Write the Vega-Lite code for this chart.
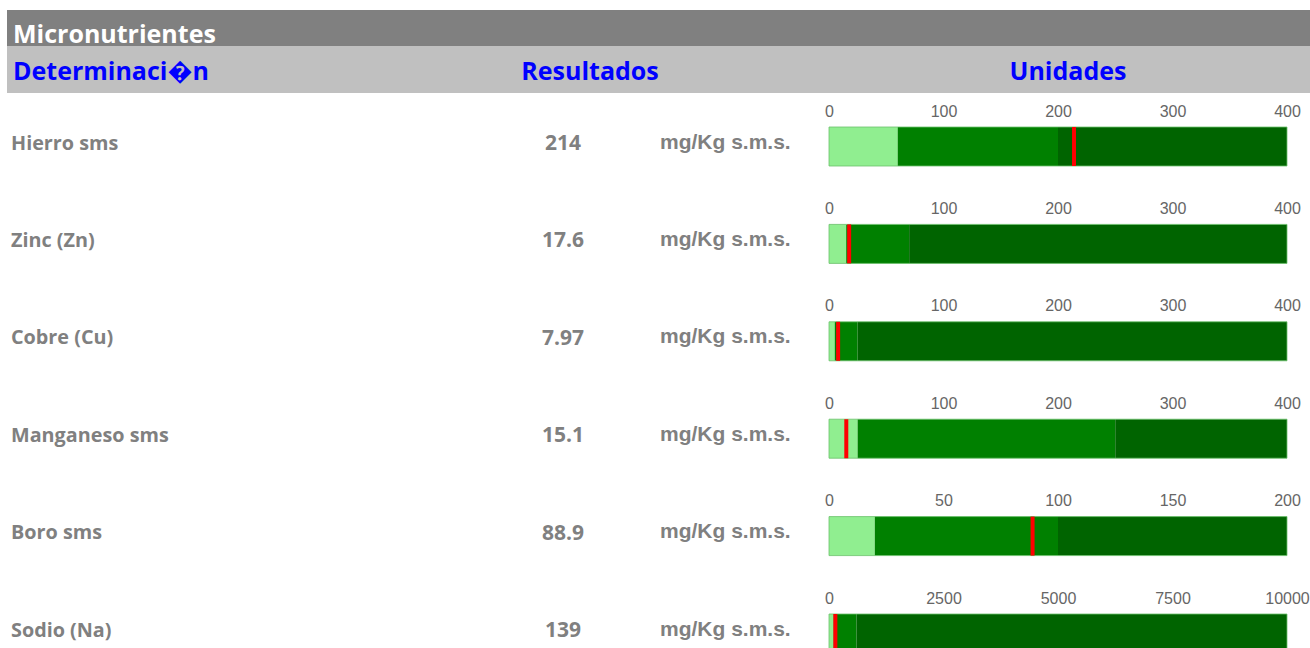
{
  "$schema": "https://vega.github.io/schema/vega-lite/v6.json",
  "padding": {"left": 7, "top": 10, "right": 0, "bottom": 0},
  "background": "white",
  "config": {
    "view": {"stroke": null},
    "axis": {"domain": false, "ticks": false, "grid": false, "labelFont": "Liberation Sans", "labelFontSize": 16, "labelColor": "#666666", "labelPadding": 8, "labelFlush": false},
    "style": {
      "titleText": {"align": "left", "baseline": "alphabetic", "dx": 6, "dy": 15, "font": "Open Sans", "fontSize": 25, "fontWeight": "bold"},
      "headLeft": {"align": "left", "baseline": "alphabetic", "dx": 6, "dy": 10, "font": "Open Sans", "fontSize": 25, "fontWeight": "bold"},
      "headCenter": {"align": "center", "baseline": "alphabetic", "dy": 10, "font": "Open Sans", "fontSize": 25, "fontWeight": "bold"},
      "nameText": {"align": "left", "baseline": "alphabetic", "dx": 4, "dy": 3, "font": "Open Sans", "fontSize": 19.8, "fontWeight": "bold"},
      "valueText": {"align": "center", "baseline": "alphabetic", "dy": 3.5, "font": "Open Sans", "fontSize": 21, "fontWeight": "bold"},
      "unitText": {"align": "left", "baseline": "alphabetic", "dx": 4, "dy": 2, "font": "Liberation Sans", "fontSize": 21, "fontWeight": "bold"}
    }
  },
  "datasets": {
    "headers": [
      {"col": "Micronutrientes", "label": "Micronutrientes"},
      {"col": "Determinación", "label": "Determinaci\uFFFDn"},
      {"col": "Resultados", "label": "Resultados"},
      {"col": "Blank", "label": ""},
      {"col": "Unidades", "label": "Unidades"}
    ],
    "items": [
      {"name": "Hierro sms", "value": 214, "result": "214", "unit": "mg/Kg s.m.s."},
      {"name": "Zinc (Zn)", "value": 17.6, "result": "17.6", "unit": "mg/Kg s.m.s."},
      {"name": "Cobre (Cu)", "value": 7.97, "result": "7.97", "unit": "mg/Kg s.m.s."},
      {"name": "Manganeso sms", "value": 15.1, "result": "15.1", "unit": "mg/Kg s.m.s."},
      {"name": "Boro sms", "value": 88.9, "result": "88.9", "unit": "mg/Kg s.m.s."},
      {"name": "Sodio (Na)", "value": 139, "result": "139", "unit": "mg/Kg s.m.s."}
    ],
    "ranges": [
      {"name": "Hierro sms", "band": "low", "start": 0, "end": 60},
      {"name": "Hierro sms", "band": "mid", "start": 60, "end": 200},
      {"name": "Hierro sms", "band": "high", "start": 200, "end": 400},
      {"name": "Zinc (Zn)", "band": "low", "start": 0, "end": 15},
      {"name": "Zinc (Zn)", "band": "mid", "start": 15, "end": 70},
      {"name": "Zinc (Zn)", "band": "high", "start": 70, "end": 400},
      {"name": "Cobre (Cu)", "band": "low", "start": 0, "end": 5},
      {"name": "Cobre (Cu)", "band": "mid", "start": 5, "end": 25},
      {"name": "Cobre (Cu)", "band": "high", "start": 25, "end": 400},
      {"name": "Manganeso sms", "band": "low", "start": 0, "end": 25},
      {"name": "Manganeso sms", "band": "mid", "start": 25, "end": 250},
      {"name": "Manganeso sms", "band": "high", "start": 250, "end": 400},
      {"name": "Boro sms", "band": "low", "start": 0, "end": 20},
      {"name": "Boro sms", "band": "mid", "start": 20, "end": 100},
      {"name": "Boro sms", "band": "high", "start": 100, "end": 200},
      {"name": "Sodio (Na)", "band": "low", "start": 0, "end": 100},
      {"name": "Sodio (Na)", "band": "mid", "start": 100, "end": 600},
      {"name": "Sodio (Na)", "band": "high", "start": 600, "end": 10000}
    ]
  },
  "spacing": 10,
  "vconcat": [
    {
      "spacing": 0,
      "bounds": "flush",
      "vconcat": [
        {"width": 1303, "height": 36, "view": {"fill": "#808080", "stroke": null}, "data": {"name": "headers"}, "transform": [{"filter": {"field": "col", "equal": "Micronutrientes"}}], "mark": {"type": "text", "style": "titleText", "color": "#FFFFFF"}, "encoding": {"text": {"field": "label"}, "x": {"field": "col", "type": "nominal", "axis": null, "bandPosition": 0, "scale": {"type": "band", "paddingInner": 0, "paddingOuter": 0}}}},
        {
          "spacing": 0,
          "bounds": "flush",
          "hconcat": [
            {"width": 513, "height": 47, "view": {"fill": "#C0C0C0", "stroke": null}, "data": {"name": "headers"}, "transform": [{"filter": {"field": "col", "equal": "Determinación"}}], "mark": {"type": "text", "style": "headLeft", "color": "#0000FF"}, "encoding": {"text": {"field": "label"}, "x": {"field": "col", "type": "nominal", "axis": null, "bandPosition": 0, "scale": {"type": "band", "paddingInner": 0, "paddingOuter": 0}}}},
            {"width": 140, "height": 47, "view": {"fill": "#C0C0C0", "stroke": null}, "data": {"name": "headers"}, "transform": [{"filter": {"field": "col", "equal": "Resultados"}}], "mark": {"type": "text", "style": "headCenter", "color": "#0000FF"}, "encoding": {"text": {"field": "label"}}},
            {"width": 166, "height": 47, "view": {"fill": "#C0C0C0", "stroke": null}, "data": {"name": "headers"}, "transform": [{"filter": {"field": "col", "equal": "Blank"}}], "mark": {"type": "text", "style": "headCenter", "color": "#0000FF"}, "encoding": {"text": {"field": "label"}}},
            {"width": 484, "height": 47, "view": {"fill": "#C0C0C0", "stroke": null}, "data": {"name": "headers"}, "transform": [{"filter": {"field": "col", "equal": "Unidades"}}], "mark": {"type": "text", "style": "headCenter", "color": "#0000FF"}, "encoding": {"text": {"field": "label"}}}
          ]
        }
      ]
    },
    {
      "columns": 4,
      "spacing": {"row": 58.4, "column": 0},
      "bounds": "flush",
      "align": "each",
      "concat": [
        {"width": 463, "height": 39, "data": {"name": "items"}, "transform": [{"filter": {"field": "name", "equal": "Hierro sms"}}], "mark": {"type": "text", "style": "nameText", "color": "#808080"}, "encoding": {"text": {"field": "name"}, "x": {"field": "name", "type": "nominal", "axis": null, "bandPosition": 0, "scale": {"type": "band", "paddingInner": 0, "paddingOuter": 0}}}},
        {"width": 186, "height": 39, "data": {"name": "items"}, "transform": [{"filter": {"field": "name", "equal": "Hierro sms"}}], "mark": {"type": "text", "style": "valueText", "color": "#808080"}, "encoding": {"text": {"field": "result"}}},
        {"width": 173, "height": 39, "data": {"name": "items"}, "transform": [{"filter": {"field": "name", "equal": "Hierro sms"}}], "mark": {"type": "text", "style": "unitText", "color": "#808080"}, "encoding": {"text": {"field": "unit"}, "x": {"field": "name", "type": "nominal", "axis": null, "bandPosition": 0, "scale": {"type": "band", "paddingInner": 0, "paddingOuter": 0}}}},
        {"width": 458, "height": 39, "layer": [
          {"data": {"name": "ranges"}, "transform": [{"filter": {"field": "name", "equal": "Hierro sms"}}], "mark": {"type": "rect"}, "encoding": {"x": {"field": "start", "type": "quantitative", "scale": {"nice": false, "zero": true}, "axis": {"orient": "top", "title": null, "format": "d", "values": [0, 100, 200, 300, 400]}}, "x2": {"field": "end"}, "color": {"field": "band", "type": "nominal", "scale": {"domain": ["low", "mid", "high"], "range": ["#90EE90", "#008000", "#006400"]}, "legend": null}}},
          {"data": {"name": "ranges"}, "transform": [{"filter": {"field": "name", "equal": "Hierro sms"}}], "mark": {"type": "rect", "fill": null, "stroke": "#6CC06C", "strokeWidth": 1, "strokeOpacity": 0.8}, "encoding": {"x": {"aggregate": "min", "field": "start", "type": "quantitative"}, "x2": {"aggregate": "max", "field": "end"}}},
          {"data": {"name": "items"}, "transform": [{"filter": {"field": "name", "equal": "Hierro sms"}}], "mark": {"type": "tick", "color": "#FF0000", "thickness": 4, "size": 39, "opacity": 1}, "encoding": {"x": {"field": "value", "type": "quantitative"}}}
        ]},

        {"width": 463, "height": 39, "data": {"name": "items"}, "transform": [{"filter": {"field": "name", "equal": "Zinc (Zn)"}}], "mark": {"type": "text", "style": "nameText", "color": "#808080"}, "encoding": {"text": {"field": "name"}, "x": {"field": "name", "type": "nominal", "axis": null, "bandPosition": 0, "scale": {"type": "band", "paddingInner": 0, "paddingOuter": 0}}}},
        {"width": 186, "height": 39, "data": {"name": "items"}, "transform": [{"filter": {"field": "name", "equal": "Zinc (Zn)"}}], "mark": {"type": "text", "style": "valueText", "color": "#808080"}, "encoding": {"text": {"field": "result"}}},
        {"width": 173, "height": 39, "data": {"name": "items"}, "transform": [{"filter": {"field": "name", "equal": "Zinc (Zn)"}}], "mark": {"type": "text", "style": "unitText", "color": "#808080"}, "encoding": {"text": {"field": "unit"}, "x": {"field": "name", "type": "nominal", "axis": null, "bandPosition": 0, "scale": {"type": "band", "paddingInner": 0, "paddingOuter": 0}}}},
        {"width": 458, "height": 39, "layer": [
          {"data": {"name": "ranges"}, "transform": [{"filter": {"field": "name", "equal": "Zinc (Zn)"}}], "mark": {"type": "rect"}, "encoding": {"x": {"field": "start", "type": "quantitative", "scale": {"nice": false, "zero": true}, "axis": {"orient": "top", "title": null, "format": "d", "values": [0, 100, 200, 300, 400]}}, "x2": {"field": "end"}, "color": {"field": "band", "type": "nominal", "scale": {"domain": ["low", "mid", "high"], "range": ["#90EE90", "#008000", "#006400"]}, "legend": null}}},
          {"data": {"name": "ranges"}, "transform": [{"filter": {"field": "name", "equal": "Zinc (Zn)"}}], "mark": {"type": "rect", "fill": null, "stroke": "#6CC06C", "strokeWidth": 1, "strokeOpacity": 0.8}, "encoding": {"x": {"aggregate": "min", "field": "start", "type": "quantitative"}, "x2": {"aggregate": "max", "field": "end"}}},
          {"data": {"name": "items"}, "transform": [{"filter": {"field": "name", "equal": "Zinc (Zn)"}}], "mark": {"type": "tick", "color": "#FF0000", "thickness": 4, "size": 39, "opacity": 1}, "encoding": {"x": {"field": "value", "type": "quantitative"}}}
        ]},

        {"width": 463, "height": 39, "data": {"name": "items"}, "transform": [{"filter": {"field": "name", "equal": "Cobre (Cu)"}}], "mark": {"type": "text", "style": "nameText", "color": "#808080"}, "encoding": {"text": {"field": "name"}, "x": {"field": "name", "type": "nominal", "axis": null, "bandPosition": 0, "scale": {"type": "band", "paddingInner": 0, "paddingOuter": 0}}}},
        {"width": 186, "height": 39, "data": {"name": "items"}, "transform": [{"filter": {"field": "name", "equal": "Cobre (Cu)"}}], "mark": {"type": "text", "style": "valueText", "color": "#808080"}, "encoding": {"text": {"field": "result"}}},
        {"width": 173, "height": 39, "data": {"name": "items"}, "transform": [{"filter": {"field": "name", "equal": "Cobre (Cu)"}}], "mark": {"type": "text", "style": "unitText", "color": "#808080"}, "encoding": {"text": {"field": "unit"}, "x": {"field": "name", "type": "nominal", "axis": null, "bandPosition": 0, "scale": {"type": "band", "paddingInner": 0, "paddingOuter": 0}}}},
        {"width": 458, "height": 39, "layer": [
          {"data": {"name": "ranges"}, "transform": [{"filter": {"field": "name", "equal": "Cobre (Cu)"}}], "mark": {"type": "rect"}, "encoding": {"x": {"field": "start", "type": "quantitative", "scale": {"nice": false, "zero": true}, "axis": {"orient": "top", "title": null, "format": "d", "values": [0, 100, 200, 300, 400]}}, "x2": {"field": "end"}, "color": {"field": "band", "type": "nominal", "scale": {"domain": ["low", "mid", "high"], "range": ["#90EE90", "#008000", "#006400"]}, "legend": null}}},
          {"data": {"name": "ranges"}, "transform": [{"filter": {"field": "name", "equal": "Cobre (Cu)"}}], "mark": {"type": "rect", "fill": null, "stroke": "#6CC06C", "strokeWidth": 1, "strokeOpacity": 0.8}, "encoding": {"x": {"aggregate": "min", "field": "start", "type": "quantitative"}, "x2": {"aggregate": "max", "field": "end"}}},
          {"data": {"name": "items"}, "transform": [{"filter": {"field": "name", "equal": "Cobre (Cu)"}}], "mark": {"type": "tick", "color": "#FF0000", "thickness": 4, "size": 39, "opacity": 1}, "encoding": {"x": {"field": "value", "type": "quantitative"}}}
        ]},

        {"width": 463, "height": 39, "data": {"name": "items"}, "transform": [{"filter": {"field": "name", "equal": "Manganeso sms"}}], "mark": {"type": "text", "style": "nameText", "color": "#808080"}, "encoding": {"text": {"field": "name"}, "x": {"field": "name", "type": "nominal", "axis": null, "bandPosition": 0, "scale": {"type": "band", "paddingInner": 0, "paddingOuter": 0}}}},
        {"width": 186, "height": 39, "data": {"name": "items"}, "transform": [{"filter": {"field": "name", "equal": "Manganeso sms"}}], "mark": {"type": "text", "style": "valueText", "color": "#808080"}, "encoding": {"text": {"field": "result"}}},
        {"width": 173, "height": 39, "data": {"name": "items"}, "transform": [{"filter": {"field": "name", "equal": "Manganeso sms"}}], "mark": {"type": "text", "style": "unitText", "color": "#808080"}, "encoding": {"text": {"field": "unit"}, "x": {"field": "name", "type": "nominal", "axis": null, "bandPosition": 0, "scale": {"type": "band", "paddingInner": 0, "paddingOuter": 0}}}},
        {"width": 458, "height": 39, "layer": [
          {"data": {"name": "ranges"}, "transform": [{"filter": {"field": "name", "equal": "Manganeso sms"}}], "mark": {"type": "rect"}, "encoding": {"x": {"field": "start", "type": "quantitative", "scale": {"nice": false, "zero": true}, "axis": {"orient": "top", "title": null, "format": "d", "values": [0, 100, 200, 300, 400]}}, "x2": {"field": "end"}, "color": {"field": "band", "type": "nominal", "scale": {"domain": ["low", "mid", "high"], "range": ["#90EE90", "#008000", "#006400"]}, "legend": null}}},
          {"data": {"name": "ranges"}, "transform": [{"filter": {"field": "name", "equal": "Manganeso sms"}}], "mark": {"type": "rect", "fill": null, "stroke": "#6CC06C", "strokeWidth": 1, "strokeOpacity": 0.8}, "encoding": {"x": {"aggregate": "min", "field": "start", "type": "quantitative"}, "x2": {"aggregate": "max", "field": "end"}}},
          {"data": {"name": "items"}, "transform": [{"filter": {"field": "name", "equal": "Manganeso sms"}}], "mark": {"type": "tick", "color": "#FF0000", "thickness": 4, "size": 39, "opacity": 1}, "encoding": {"x": {"field": "value", "type": "quantitative"}}}
        ]},

        {"width": 463, "height": 39, "data": {"name": "items"}, "transform": [{"filter": {"field": "name", "equal": "Boro sms"}}], "mark": {"type": "text", "style": "nameText", "color": "#808080"}, "encoding": {"text": {"field": "name"}, "x": {"field": "name", "type": "nominal", "axis": null, "bandPosition": 0, "scale": {"type": "band", "paddingInner": 0, "paddingOuter": 0}}}},
        {"width": 186, "height": 39, "data": {"name": "items"}, "transform": [{"filter": {"field": "name", "equal": "Boro sms"}}], "mark": {"type": "text", "style": "valueText", "color": "#808080"}, "encoding": {"text": {"field": "result"}}},
        {"width": 173, "height": 39, "data": {"name": "items"}, "transform": [{"filter": {"field": "name", "equal": "Boro sms"}}], "mark": {"type": "text", "style": "unitText", "color": "#808080"}, "encoding": {"text": {"field": "unit"}, "x": {"field": "name", "type": "nominal", "axis": null, "bandPosition": 0, "scale": {"type": "band", "paddingInner": 0, "paddingOuter": 0}}}},
        {"width": 458, "height": 39, "layer": [
          {"data": {"name": "ranges"}, "transform": [{"filter": {"field": "name", "equal": "Boro sms"}}], "mark": {"type": "rect"}, "encoding": {"x": {"field": "start", "type": "quantitative", "scale": {"nice": false, "zero": true}, "axis": {"orient": "top", "title": null, "format": "d", "values": [0, 50, 100, 150, 200]}}, "x2": {"field": "end"}, "color": {"field": "band", "type": "nominal", "scale": {"domain": ["low", "mid", "high"], "range": ["#90EE90", "#008000", "#006400"]}, "legend": null}}},
          {"data": {"name": "ranges"}, "transform": [{"filter": {"field": "name", "equal": "Boro sms"}}], "mark": {"type": "rect", "fill": null, "stroke": "#6CC06C", "strokeWidth": 1, "strokeOpacity": 0.8}, "encoding": {"x": {"aggregate": "min", "field": "start", "type": "quantitative"}, "x2": {"aggregate": "max", "field": "end"}}},
          {"data": {"name": "items"}, "transform": [{"filter": {"field": "name", "equal": "Boro sms"}}], "mark": {"type": "tick", "color": "#FF0000", "thickness": 4, "size": 39, "opacity": 1}, "encoding": {"x": {"field": "value", "type": "quantitative"}}}
        ]},

        {"width": 463, "height": 39, "data": {"name": "items"}, "transform": [{"filter": {"field": "name", "equal": "Sodio (Na)"}}], "mark": {"type": "text", "style": "nameText", "color": "#808080"}, "encoding": {"text": {"field": "name"}, "x": {"field": "name", "type": "nominal", "axis": null, "bandPosition": 0, "scale": {"type": "band", "paddingInner": 0, "paddingOuter": 0}}}},
        {"width": 186, "height": 39, "data": {"name": "items"}, "transform": [{"filter": {"field": "name", "equal": "Sodio (Na)"}}], "mark": {"type": "text", "style": "valueText", "color": "#808080"}, "encoding": {"text": {"field": "result"}}},
        {"width": 173, "height": 39, "data": {"name": "items"}, "transform": [{"filter": {"field": "name", "equal": "Sodio (Na)"}}], "mark": {"type": "text", "style": "unitText", "color": "#808080"}, "encoding": {"text": {"field": "unit"}, "x": {"field": "name", "type": "nominal", "axis": null, "bandPosition": 0, "scale": {"type": "band", "paddingInner": 0, "paddingOuter": 0}}}},
        {"width": 458, "height": 39, "layer": [
          {"data": {"name": "ranges"}, "transform": [{"filter": {"field": "name", "equal": "Sodio (Na)"}}], "mark": {"type": "rect"}, "encoding": {"x": {"field": "start", "type": "quantitative", "scale": {"nice": false, "zero": true}, "axis": {"orient": "top", "title": null, "format": "d", "values": [0, 2500, 5000, 7500, 10000]}}, "x2": {"field": "end"}, "color": {"field": "band", "type": "nominal", "scale": {"domain": ["low", "mid", "high"], "range": ["#90EE90", "#008000", "#006400"]}, "legend": null}}},
          {"data": {"name": "ranges"}, "transform": [{"filter": {"field": "name", "equal": "Sodio (Na)"}}], "mark": {"type": "rect", "fill": null, "stroke": "#6CC06C", "strokeWidth": 1, "strokeOpacity": 0.8}, "encoding": {"x": {"aggregate": "min", "field": "start", "type": "quantitative"}, "x2": {"aggregate": "max", "field": "end"}}},
          {"data": {"name": "items"}, "transform": [{"filter": {"field": "name", "equal": "Sodio (Na)"}}], "mark": {"type": "tick", "color": "#FF0000", "thickness": 4, "size": 39, "opacity": 1}, "encoding": {"x": {"field": "value", "type": "quantitative"}}}
        ]}
      ]
    }
  ]
}
